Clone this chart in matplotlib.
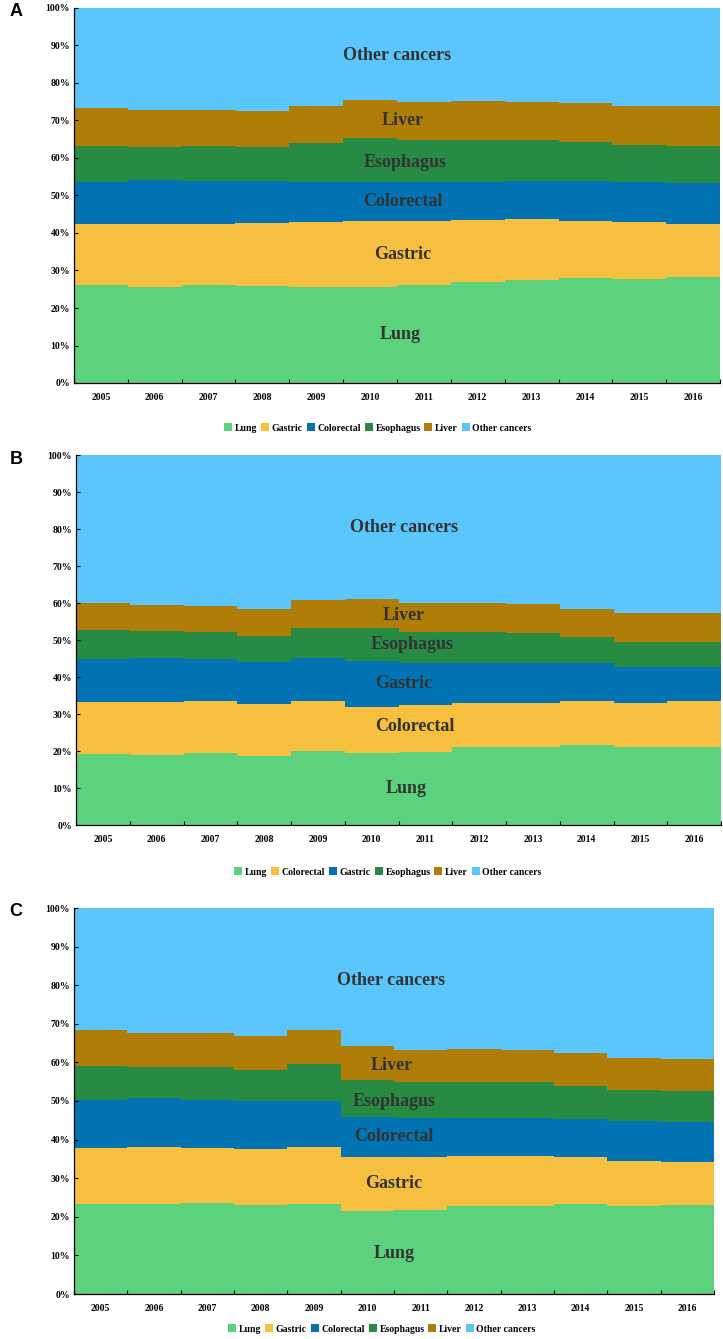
import numpy as np
import matplotlib
matplotlib.use('Agg')
import matplotlib.pyplot as plt
from matplotlib.ticker import FixedLocator, PercentFormatter

plt.rcParams['font.family'] = ['Liberation Serif', 'DejaVu Serif']
plt.rcParams['font.weight'] = 'bold'

years = [str(y) for y in range(2005, 2017)]

# cumulative tops (percent)
# panel A: Lung, Gastric, Colorectal, Esophagus, Liver, Other
a_names = ['Lung', 'Gastric', 'Colorectal', 'Esophagus', 'Liver', 'Other cancers']
a_lung = [26.1, 25.7, 26.1, 25.8, 25.6, 25.7, 26.2, 27.0, 27.4, 28.0, 27.8, 28.2]
a_gastric = [42.4, 42.5, 42.3, 42.6, 42.8, 43.3, 43.3, 43.5, 43.8, 43.3, 42.9, 42.3]
a_colorectal = [53.5, 54.1, 53.9, 53.9, 53.7, 53.6, 53.7, 53.5, 53.8, 53.8, 53.6, 53.4]
a_esophagus = [63.2, 62.9, 63.1, 62.9, 63.9, 65.2, 64.8, 64.8, 64.9, 64.3, 63.5, 63.3]
a_liver = [73.4, 72.7, 72.8, 72.4, 73.8, 75.4, 74.9, 75.3, 75.0, 74.6, 73.9, 73.8]

# panel B: Lung, Colorectal, Gastric, Esophagus, Liver, Other
b_names = ['Lung', 'Colorectal', 'Gastric', 'Esophagus', 'Liver', 'Other cancers']
b_lung = [19.2, 18.9, 19.4, 18.7, 20.0, 19.4, 19.8, 21.1, 21.0, 21.5, 21.0, 21.1]
b_colorectal = [33.2, 33.2, 33.6, 32.7, 33.6, 32.0, 32.3, 33.1, 32.9, 33.5, 33.0, 33.4]
b_gastric = [44.8, 45.1, 44.9, 44.1, 45.1, 44.2, 43.9, 43.7, 43.7, 43.7, 42.6, 42.7]
b_esophagus = [52.6, 52.3, 52.2, 51.1, 53.2, 53.3, 52.2, 52.2, 51.9, 50.8, 49.5, 49.5]
b_liver = [60.1, 59.4, 59.3, 58.3, 60.8, 61.2, 59.9, 60.0, 59.7, 58.5, 57.2, 57.2]

# panel C: Lung, Gastric, Colorectal, Esophagus, Liver, Other
c_names = ['Lung', 'Gastric', 'Colorectal', 'Esophagus', 'Liver', 'Other cancers']
c_lung = [23.4, 23.2, 23.6, 23.0, 23.4, 21.4, 21.8, 22.8, 22.9, 23.3, 22.9, 23.1]
c_gastric = [37.9, 38.1, 37.8, 37.6, 38.1, 35.6, 35.4, 35.8, 35.8, 35.4, 34.5, 34.2]
c_colorectal = [50.2, 50.7, 50.3, 50.0, 49.9, 45.8, 45.7, 45.5, 45.7, 45.4, 44.9, 44.6]
c_esophagus = [59.0, 58.8, 58.7, 58.1, 59.5, 55.5, 54.9, 54.9, 54.8, 54.0, 52.8, 52.5]
c_liver = [68.3, 67.6, 67.5, 66.9, 68.3, 64.2, 63.2, 63.6, 63.3, 62.5, 61.2, 60.8]

# label positions inside each panel (x in category units, y in percent)
a_label_y = [12.9, 34.2, 48.4, 58.9, 69.9, 87.3]
b_label_y = [9.9, 26.6, 38.3, 48.7, 56.5, 80.5]
c_label_y = [10.6, 28.7, 40.7, 50.0, 59.3, 81.3]

colors = ['#5BD27B', '#F6BF40', '#0273B3', '#288B43', '#B07E08', '#5BC6FC']

W, H = 723, 1339
fig = plt.figure(figsize=(W / 100, H / 100), dpi=100)


def panel(letter, box, tops, names, label_y, label_x, legend_xy):
    l, t, r, b = box
    ax = fig.add_axes([l / W, 1 - b / H, (r - l) / W, (b - t) / H])
    x = np.arange(len(years))
    tops = [np.array(v) for v in tops] + [np.full(len(years), 100.0)]
    # draw cumulative bars from the tallest down so no seams show
    handles = []
    for top, name, col in zip(tops[::-1], names[::-1], colors[::-1]):
        bc = ax.bar(x, top, width=1.0, color=col, linewidth=0, label=name)
        handles.append(bc)
    handles = handles[::-1]
    for name, ly, lx in zip(names, label_y, label_x):
        ax.text(lx, ly, name, ha='center', va='center', fontsize=13,
                fontweight='bold', color='#333333')
    ax.set_xlim(-0.5, len(years) - 0.5)
    ax.set_ylim(0, 100)
    ax.set_xticks(x)
    ax.set_xticklabels(years, fontsize=7, fontweight='bold')
    ax.xaxis.set_minor_locator(FixedLocator(np.arange(-0.5, len(years), 1)))
    ax.tick_params(axis='x', which='major', length=0, pad=7)
    ax.tick_params(axis='x', which='minor', direction='in', length=3, width=0.8)
    ax.set_yticks(np.arange(0, 101, 10))
    ax.yaxis.set_major_formatter(PercentFormatter(decimals=0))
    ax.tick_params(axis='y', direction='in', length=3, width=0.8,
                   labelsize=7, pad=3)
    for lab in ax.get_yticklabels():
        lab.set_fontweight('bold')
    for s in ['top', 'right']:
        ax.spines[s].set_visible(False)
    for s in ['left', 'bottom']:
        ax.spines[s].set_linewidth(0.9)
    ax.legend(handles, names, loc='center',
              bbox_to_anchor=(legend_xy[0] / W, 1 - legend_xy[1] / H),
              bbox_transform=fig.transFigure, ncol=6, frameon=False,
              prop={'size': 7, 'weight': 'bold'}, handlelength=0.8,
              handleheight=0.8, handletextpad=0.3, columnspacing=0.4,
              borderaxespad=0)
    fig.text(16 / W, 1 - (t + 4) / H, letter, ha='center', va='center',
             fontsize=13, fontweight='bold', family='Liberation Sans')
    return ax


panel('A', (74, 8, 720, 383),
      [a_lung, a_gastric, a_colorectal, a_esophagus, a_liver],
      a_names, a_label_y, [5.55, 5.6, 5.6, 5.65, 5.6, 5.5], (378, 428))
panel('B', (76, 455, 721, 825),
      [b_lung, b_colorectal, b_gastric, b_esophagus, b_liver],
      b_names, b_label_y, [5.65, 5.8, 5.6, 5.75, 5.6, 5.6], (388, 872))
panel('C', (74, 908, 714, 1294),
      [c_lung, c_gastric, c_colorectal, c_esophagus, c_liver],
      c_names, c_label_y, [5.5, 5.5, 5.5, 5.5, 5.45, 5.45], (382, 1329))

fig.savefig('out.png', dpi=100)
